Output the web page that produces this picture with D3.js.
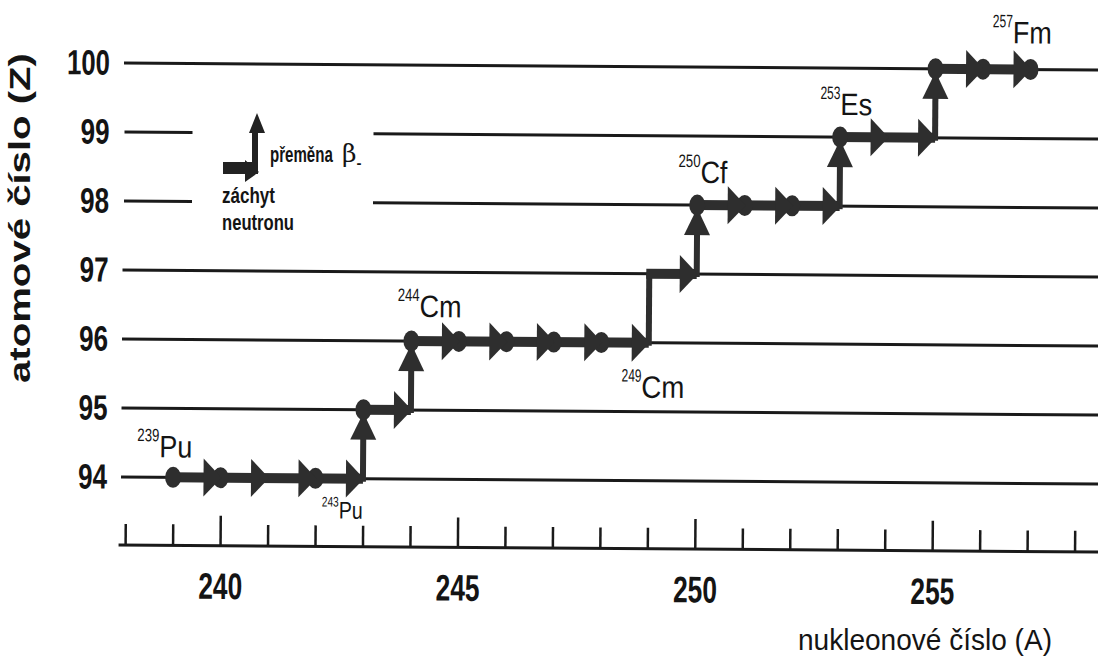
<!DOCTYPE html>
<html>
<head>
<meta charset="utf-8">
<script src="https://cdn.jsdelivr.net/npm/d3@7"></script>
<style>
  body { margin: 0; background: #fff; }
  text { font-family: "Liberation Sans Narrow", "Arial Narrow", "Liberation Sans", sans-serif; fill: #141414; }
</style>
</head>
<body>
<div id="chart"></div>
<script>
// nucleon numbers on the x axis and atomic numbers on the y axis
const massTicks = d3.range(238, 259);
const massLabels = [240, 245, 250, 255];
const atomicNumbers = [94, 95, 96, 97, 98, 99, 100];

// the build-up chain, corner by corner
const chainA = [239, 243, 243, 244, 244, 249, 249, 250, 250, 253, 253, 255, 255, 257];
const chainZ = [94, 94, 95, 95, 96, 96, 97, 97, 98, 98, 99, 99, 100, 100];

// neutron captures (right arrows) and beta decays (up arrows)
const captureA = [240, 241, 242, 243, 244, 245, 246, 247, 248, 249, 250, 251, 252, 253, 254, 255, 256, 257];
const captureZ = [94, 94, 94, 94, 95, 96, 96, 96, 96, 96, 97, 98, 98, 98, 99, 99, 100, 100];
const decayA = [243, 244, 250, 253, 255];
const decayZ = [95, 96, 98, 99, 100];

// nuclides drawn as dots
const dotA = [239, 240, 242, 243, 244, 245, 246, 247, 248, 250, 251, 252, 253, 255, 256, 257];
const dotZ = [94, 94, 94, 95, 96, 96, 96, 96, 96, 98, 98, 98, 99, 100, 100, 100];

// named isotopes
const isoMass = ["239", "243", "244", "249", "250", "253", "257"];
const isoSymbol = ["Pu", "Pu", "Cm", "Cm", "Cf", "Es", "Fm"];
const isoA = [239, 243, 244, 249, 250, 253, 257];
const isoZ = [94, 94, 96, 96, 98, 99, 100];

const width = 1098, height = 662;
const ink = "#2e2e2e";
const narrow = "'Liberation Sans Narrow','Arial Narrow','Liberation Sans',sans-serif";

const svg = d3.select("#chart").append("svg")
  .attr("width", width)
  .attr("height", height);

const x = d3.scaleLinear().domain([240, 255]).range([223.5, 935.6]);
const y = d3.scaleLinear().domain([94, 100]).range([477, 63]);

// the scan is a little tilted, so the plot is too
const plot = svg.append("g").attr("transform", "rotate(0.41,125,63)");

// horizontal Z lines, two of them broken for the legend
const gapLeft = 193, gapRight = 374;
atomicNumbers.forEach(z => {
  const segs = (z === 98 || z === 99) ? [[125, gapLeft], [gapRight, 1110]] : [[124, 1110]];
  segs.forEach(s => {
    plot.append("line")
      .attr("x1", s[0]).attr("x2", s[1])
      .attr("y1", y(z)).attr("y2", y(z))
      .attr("stroke", "#1a1a1a").attr("stroke-width", 3);
  });
});

// y tick labels
const yAxis = plot.append("g")
  .attr("transform", "translate(124,0)")
  .call(d3.axisLeft(y).tickValues(atomicNumbers).tickSize(0).tickPadding(14).tickFormat(d3.format("d")));
yAxis.select(".domain").remove();
yAxis.selectAll("text")
  .attr("font-size", 35).attr("font-weight", "bold")
  .style("font-family", narrow)
  .attr("fill", "#141414")
  .attr("textLength", d => d === 100 ? 43 : 29)
  .attr("lengthAdjust", "spacingAndGlyphs");

// x axis: long ticks at labelled values, short ones elsewhere
const axisY = 545;
plot.append("line")
  .attr("x1", 122).attr("x2", 1110)
  .attr("y1", axisY).attr("y2", axisY)
  .attr("stroke", "#1a1a1a").attr("stroke-width", 3);

const minorAxis = plot.append("g")
  .attr("transform", `translate(0,${axisY})`)
  .call(d3.axisBottom(x).tickValues(massTicks.filter(d => !massLabels.includes(d))).tickSizeInner(-21).tickSizeOuter(0).tickFormat(""));
const majorAxis = plot.append("g")
  .attr("transform", `translate(0,${axisY})`)
  .call(d3.axisBottom(x).tickValues(massLabels).tickSizeInner(-30).tickSizeOuter(0).tickPadding(27).tickFormat(d3.format("d")));
[minorAxis, majorAxis].forEach(g => {
  g.select(".domain").remove();
  g.selectAll(".tick line").attr("stroke", "#1a1a1a").attr("stroke-width", 2.5);
});
majorAxis.selectAll("text")
  .attr("font-size", 37).attr("font-weight", "bold")
  .style("font-family", narrow)
  .attr("fill", "#141414")
  .attr("textLength", 44).attr("lengthAdjust", "spacingAndGlyphs");

// the chain itself
const chain = chainA.map((a, i) => ({ a, z: chainZ[i] }));
for (let i = 0; i < chain.length - 1; i++) {
  const p = chain[i], q = chain[i + 1];
  const flat = p.z === q.z;
  plot.append("line")
    .attr("x1", x(p.a) - (flat && i > 0 ? 3 : 0)).attr("x2", x(q.a))
    .attr("y1", y(p.z)).attr("y2", y(q.z) + (flat ? 0 : 4))
    .attr("stroke", ink)
    .attr("stroke-width", flat ? 10 : 6)
    .attr("stroke-linecap", flat ? "butt" : "square");
}

// beta decay arrowheads
plot.selectAll(".up")
  .data(decayA.map((a, i) => ({ a, z: decayZ[i] })))
  .enter().append("path")
  .attr("class", "up")
  .attr("fill", ink)
  .attr("d", d => {
    const cx = x(d.a), ty = y(d.z) + 3;
    return `M${cx},${ty} L${cx + 13},${ty + 27} L${cx - 13},${ty + 27} Z`;
  });

// dots (slightly tall, as in the print)
plot.selectAll(".dot")
  .data(dotA.map((a, i) => ({ a, z: dotZ[i] })))
  .enter().append("ellipse")
  .attr("class", "dot")
  .attr("cx", d => x(d.a))
  .attr("cy", d => y(d.z))
  .attr("rx", 8)
  .attr("ry", 10.5)
  .attr("fill", ink);

// neutron capture arrowheads
plot.selectAll(".right")
  .data(captureA.map((a, i) => ({ a, z: captureZ[i] })))
  .enter().append("path")
  .attr("class", "right")
  .attr("fill", ink)
  .attr("d", d => {
    const tx = x(d.a) + 1, cy = y(d.z);
    return `M${tx},${cy} L${tx - 18},${cy - 19} L${tx - 18},${cy + 19} Z`;
  });

// isotope names, offsets from their dot
const labelLayout = [
  { dx: -36, dy: -20, size: 31, sup: 18, supW: 22, symW: 33 },
  { dx: -41, dy: 40, size: 24, sup: 14, supW: 17, symW: 24 },
  { dx: -14, dy: -24, size: 31, sup: 18, supW: 22, symW: 42 },
  { dx: -27, dy: 55, size: 31, sup: 18, supW: 20, symW: 43 },
  { dx: -19, dy: -22, size: 31, sup: 18, supW: 22, symW: 27 },
  { dx: -20, dy: -22, size: 31, sup: 18, supW: 20, symW: 32 },
  { dx: -38, dy: -26, size: 31, sup: 18, supW: 20, symW: 39 }
];
isoMass.forEach((m, i) => {
  const L = labelLayout[i];
  const bx = x(isoA[i]) + L.dx, by = y(isoZ[i]) + L.dy;
  const raise = Math.round(L.size * 0.5);
  const t = plot.append("text").attr("x", bx).attr("y", by);
  t.append("tspan")
    .attr("dy", -raise)
    .attr("font-size", L.sup)
    .attr("textLength", L.supW).attr("lengthAdjust", "spacingAndGlyphs")
    .text(m);
  t.append("tspan")
    .attr("dy", raise)
    .attr("font-size", L.size)
    .attr("textLength", L.symW).attr("lengthAdjust", "spacingAndGlyphs")
    .text(isoSymbol[i]);
});

// axis titles
svg.append("text")
  .attr("transform", "translate(30,218) rotate(-90)")
  .attr("text-anchor", "middle")
  .attr("font-size", 29).attr("font-weight", "bold")
  .style("font-family", "'Liberation Sans','Arial',sans-serif")
  .attr("textLength", 330).attr("lengthAdjust", "spacingAndGlyphs")
  .text("atomové číslo (Z)");

svg.append("text")
  .attr("x", 1052).attr("y", 650)
  .attr("text-anchor", "end")
  .attr("font-size", 29)
  .attr("textLength", 254).attr("lengthAdjust", "spacingAndGlyphs")
  .text("nukleonové číslo (A)");

// legend
const legend = svg.append("g");
legend.append("line")
  .attr("x1", 223).attr("x2", 252).attr("y1", 168).attr("y2", 168)
  .attr("stroke", "#222").attr("stroke-width", 12);
legend.append("path").attr("fill", "#222")
  .attr("d", "M259,172 L245,160 L245,182 Z");
legend.append("line")
  .attr("x1", 255).attr("x2", 255).attr("y1", 174).attr("y2", 128)
  .attr("stroke", "#222").attr("stroke-width", 6);
legend.append("path").attr("fill", "#222")
  .attr("d", "M257,113 L265,133 L249,133 Z");
const beta = legend.append("text")
  .attr("x", 270).attr("y", 162)
  .attr("font-size", 22).attr("font-weight", "bold");
beta.append("tspan")
  .attr("textLength", 67).attr("lengthAdjust", "spacingAndGlyphs")
  .text("přeměna ");
beta.append("tspan")
  .attr("x", 342)
  .attr("font-size", 25).attr("font-weight", "normal")
  .style("font-family", "'DejaVu Serif',serif")
  .text("β");
beta.append("tspan")
  .attr("dy", 6)
  .attr("font-size", 15)
  .text("-");
legend.append("text")
  .attr("x", 222).attr("y", 203)
  .attr("font-size", 22).attr("font-weight", "bold")
  .attr("textLength", 53).attr("lengthAdjust", "spacingAndGlyphs")
  .text("záchyt");
legend.append("text")
  .attr("x", 222).attr("y", 230)
  .attr("font-size", 22).attr("font-weight", "bold")
  .attr("textLength", 72).attr("lengthAdjust", "spacingAndGlyphs")
  .text("neutronu");
</script>
</body>
</html>
